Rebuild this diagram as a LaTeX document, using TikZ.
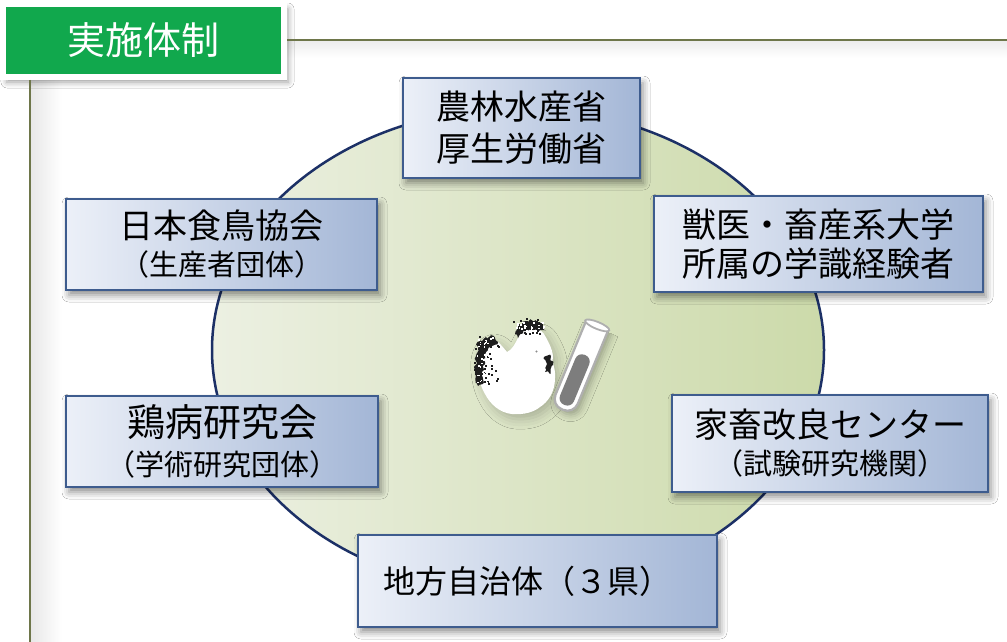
\documentclass[tikz,border=0pt]{standalone}
\usepackage{fontspec}
\newfontfamily\jp{Noto Sans CJK JP}
\usetikzlibrary{shapes.geometric,shadows.blur,decorations.pathmorphing}

\definecolor{titlegreen}{RGB}{17,168,77}
\definecolor{frameolive}{RGB}{110,118,74}
\definecolor{boxedge}{RGB}{62,92,142}
\definecolor{boxL}{RGB}{236,240,248}
\definecolor{boxR}{RGB}{163,182,214}
\definecolor{ringedge}{RGB}{28,48,102}
\definecolor{ringL}{RGB}{236,240,226}
\definecolor{ringR}{RGB}{204,218,170}
\definecolor{speck}{RGB}{30,30,30}
\definecolor{tubeedge}{RGB}{175,175,175}
\definecolor{liquid}{RGB}{125,125,125}

\begin{document}
\begin{tikzpicture}[x=1pt,y=-1pt,
  frameline/.style={draw=frameolive, line width=2pt},
  orgbox/.style={rectangle, draw=boxedge, line width=1.4pt,
    left color=boxL, right color=boxR, inner sep=0pt, align=center,
    text=black, font=\jp\fontsize{34}{40}\selectfont,
    blur shadow={shadow xshift=3pt, shadow yshift=-5pt,
      shadow blur radius=7pt, shadow opacity=45}},
  titlebox/.style={rectangle, fill=titlegreen, draw=white, line width=6pt,
    text=white, font=\jp\fontsize{38}{44}\selectfont,
    blur shadow={shadow xshift=4pt, shadow yshift=-5pt,
      shadow blur radius=6pt, shadow opacity=40}},
  fuzz/.style={fill=speck, decorate,
    decoration={random steps, segment length=2.5pt, amplitude=1.8pt}},
]
\newcommand\subsize{\fontsize{29}{32}\selectfont}
\useasboundingbox (0,0) rectangle (1007,642);
\fill[white] (0,0) rectangle (1007,642);

% soft glow along the frame lines
\shade[left color=black!9, right color=white] (31,80) rectangle (62,642);
\shade[top color=black!7, bottom color=white] (287,41) rectangle (1007,58);

% central ring
\node[ellipse, draw=ringedge, line width=2.5pt, minimum width=612pt,
  minimum height=484pt, left color=ringL, right color=ringR,
  inner sep=0pt] (ring) at (518,350) {};

% chicken: white body with dark fuzzy tail, comb and wattle
\fill[white, blur shadow={shadow xshift=4pt, shadow yshift=-5pt,
    shadow blur radius=10pt, shadow opacity=22}]
  (490,339) .. controls (497,339) and (502,346) .. (507,352)
  .. controls (512,350) and (515,344) .. (519,336)
  .. controls (524,327) and (538,325) .. (544,334)
  .. controls (548,341) and (552,348) .. (553,356)
  .. controls (551,362) and (556,368) .. (555,378)
  .. controls (555,392) and (548,402) .. (540,407)
  .. controls (534,412) and (524,415) .. (512,414)
  .. controls (500,413) and (490,404) .. (485,394)
  .. controls (479,384) and (476,368) .. (477,356)
  .. controls (478,347) and (483,340) .. (490,339) -- cycle;
\pgfmathsetseed{5}
% tail feathers
\fill[fuzz] (478,342) -- (486,337) -- (494,336) -- (498,342) -- (492,346)
  -- (486,352) -- (485,362) -- (482,372) -- (483,384) -- (478,386)
  -- (475,372) -- (476,356) -- cycle;
% comb
\fill[fuzz] (515,334) -- (518,326) -- (526,321) -- (536,320) -- (543,324)
  -- (546,331) -- (540,330) -- (531,329) -- (523,331) -- (518,338) -- cycle;
% wattle
\fill[fuzz] (544,357) -- (551,356) -- (553,365) -- (550,374) -- (545,372)
  -- (547,364) -- cycle;
% loose speckles
\foreach \k in {1,...,40}{
  \pgfmathsetmacro\py{334+52*rnd}
  \pgfmathsetmacro\px{474+24*rnd}
  \fill[speck] (\px,\py) rectangle ++(2,2);
}
\foreach \k in {1,...,25}{
  \pgfmathsetmacro\px{513+34*rnd}
  \pgfmathsetmacro\py{318+16*rnd}
  \fill[speck] (\px,\py) rectangle ++(2,2);
}
% white flecks inside the dark parts
\foreach \k in {1,...,50}{
  \pgfmathsetmacro\py{337+48*rnd}
  \pgfmathsetmacro\px{476+18*rnd}
  \fill[white] (\px,\py) rectangle ++(1.6,1.6);
}
\foreach \k in {1,...,25}{
  \pgfmathsetmacro\px{516+28*rnd}
  \pgfmathsetmacro\py{321+10*rnd}
  \fill[white] (\px,\py) rectangle ++(1.6,1.6);
}
\fill[black!45] (536.5,351.5) circle (1.2pt);

% test tube
\begin{scope}[shift={(580,367)}, rotate=-22.5]
  \draw[tubeedge, line width=2.2pt, fill=white, rounded corners=11pt,
    blur shadow={shadow xshift=3pt, shadow yshift=-4pt,
      shadow blur radius=7pt, shadow opacity=30}]
    (-12,-45) -- (-12,46) -- (12,46) -- (12,-45);
  \fill[liquid, rounded corners=7pt] (-7.5,-13) -- (-7.5,41) -- (7.5,41) -- (7.5,-13) -- cycle;
  \draw[tubeedge, line width=1.8pt, fill=white] (0,-45) ellipse[x radius=13, y radius=3.5];
\end{scope}

% organisations around the ring
\node[orgbox, minimum width=237pt, minimum height=100pt] (mhlw) at (521.5,128)
  {農林水産省\\[2pt]厚生労働省};
\node[orgbox, minimum width=311pt, minimum height=91pt] (jpa) at (221.5,244.5)
  {日本食鳥協会\\[-3pt]{\subsize （生産者団体）}};
\node[orgbox, minimum width=329pt, minimum height=96pt] (univ) at (818.5,244)
  {獣医・畜産系大学\\[-1pt]所属の学識経験者};
\node[orgbox, minimum width=312pt, minimum height=91pt] (jsap) at (222,441.5)
  {{\fontsize{38}{40}\selectfont 鶏病研究会}\\[-1pt]{\subsize （学術研究団体）}};
\node[orgbox, minimum width=316pt, minimum height=97pt] (nlbc) at (830,443.5)
  {家畜改良センター\\[-3pt]{\subsize （試験研究機関）}};
\node[orgbox, minimum width=359pt, minimum height=92pt,
  font=\jp\fontsize{32}{38}\selectfont] (pref) at (537.5,581)
  {地方自治体（３県）\hspace*{20pt}};

% heading and frame
\node[titlebox, minimum width=281pt, minimum height=73pt] (title) at (143.5,40.5)
  {実施体制};
\coordinate (hend) at (1007,40);
\coordinate (vend) at (30,642);
\draw[frameline] (title.east) -- (title.east -| hend);
\draw[frameline] (title.south -| vend) -- (vend);
\end{tikzpicture}
\end{document}
